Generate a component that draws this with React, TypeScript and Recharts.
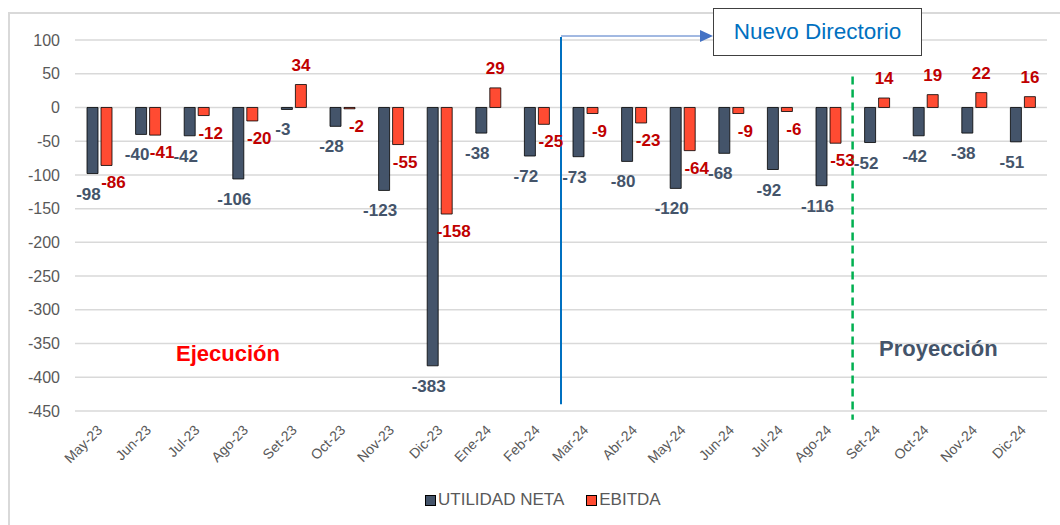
import { BarChart, Bar, XAxis, YAxis, CartesianGrid, ReferenceLine, LabelList } from 'recharts';

const months = [
  'May-23', 'Jun-23', 'Jul-23', 'Ago-23', 'Set-23', 'Oct-23', 'Nov-23', 'Dic-23', 'Ene-24', 'Feb-24',
  'Mar-24', 'Abr-24', 'May-24', 'Jun-24', 'Jul-24', 'Ago-24', 'Set-24', 'Oct-24', 'Nov-24', 'Dic-24',
];
const utilidadNeta = [-98, -40, -42, -106, -3, -28, -123, -383, -38, -72, -73, -80, -120, -68, -92, -116, -52, -42, -38, -51];
const ebitda = [-86, -41, -12, -20, 34, -2, -55, -158, 29, -25, -9, -23, -64, -9, -6, -53, 14, 19, 22, 16];
const yTicks = [100, 50, 0, -50, -100, -150, -200, -250, -300, -350, -400, -450];

const FONT = "'Liberation Sans', Arial, sans-serif";
const DARK = '#44546A';
const RED = '#FF4B32';
const RED_TEXT = '#C00000';
const GRID = '#D9D9D9';

const data = months.map((month, i) => ({ month, utilidad: utilidadNeta[i], ebitda: ebitda[i] }));

function makeLabel(color: string, shift: number, drop: number) {
  return (props: any) => {
    const { x, y, width, height, value } = props;
    const top = Math.min(y, y + height);
    const bottom = Math.max(y, y + height);
    const cx = x + width / 2;
    const neg = value < 0;
    return (
      <text
        x={neg ? cx + shift : cx}
        y={neg ? bottom + drop : top - 14}
        textAnchor="middle"
        fill={color}
        fontSize={17}
        fontWeight={700}
        fontFamily={FONT}
      >
        {value}
      </text>
    );
  };
}

const XTick = (props: any) => {
  const { x, y, payload } = props;
  const tx = x + 4;
  const ty = y + 12;
  return (
    <text
      x={tx}
      y={ty}
      transform={`rotate(-45, ${tx}, ${ty})`}
      textAnchor="end"
      fill="#595959"
      fontSize={14}
      fontFamily={FONT}
    >
      {payload.value}
    </text>
  );
};

export default function App() {
  return (
    <div
      style={{
        position: 'absolute',
        left: 0,
        top: 0,
        width: 1060,
        height: 525,
        overflow: 'hidden',
        background: '#FFFFFF',
        fontFamily: FONT,
      }}
    >
      <div
        style={{
          position: 'absolute',
          left: 8,
          top: 12,
          width: 1100,
          height: 600,
          border: `2px solid ${GRID}`,
        }}
      />
      <div style={{ position: 'absolute', left: 0, top: 0 }}>
        <BarChart
          width={1060}
          height={525}
          data={data}
          margin={{ top: 40, right: 13, bottom: 0, left: 0 }}
          barSize={11}
          barGap={3}
        >
          <CartesianGrid vertical={false} stroke={GRID} strokeWidth={1.5} />
          <XAxis
            dataKey="month"
            height={114}
            axisLine={false}
            tickLine={false}
            interval={0}
            tick={<XTick />}
          />
          <YAxis
            domain={[-450, 100]}
            ticks={yTicks}
            width={75}
            axisLine={false}
            tickLine={false}
            tickSize={6}
            tickMargin={9}
            interval={0}
            tick={{ fill: '#595959', fontSize: 16, fontFamily: FONT }}
          />
          <Bar dataKey="utilidad" name="UTILIDAD NETA" fill={DARK} stroke="#000" strokeWidth={0.8} isAnimationActive={false}>
            <LabelList dataKey="utilidad" content={makeLabel(DARK, -4, 26)} />
          </Bar>
          <Bar dataKey="ebitda" name="EBITDA" fill={RED} stroke="#000" strokeWidth={0.8} isAnimationActive={false}>
            <LabelList dataKey="ebitda" content={makeLabel(RED_TEXT, 7, 23)} />
          </Bar>
          <ReferenceLine
            segment={[{ x: 'Mar-24', y: 104.5 }, { x: 'Mar-24', y: -440 }]}
            position="start"
            ifOverflow="visible"
            stroke="#0070C0"
            strokeWidth={2}
          />
          <ReferenceLine
            segment={[{ x: 'Set-24', y: 46 }, { x: 'Set-24', y: -463 }]}
            position="start"
            ifOverflow="visible"
            stroke="#00B050"
            strokeWidth={2.5}
            strokeDasharray="8 5"
          />
        </BarChart>
      </div>

      <svg style={{ position: 'absolute', left: 0, top: 0 }} width={1060} height={525}>
        <line x1={561} y1={36} x2={702} y2={36} stroke="#4472C4" strokeWidth={1} />
        <polygon points="700,30 713,36 700,42" fill="#4472C4" />
      </svg>

      <div
        style={{
          position: 'absolute',
          left: 713,
          top: 8,
          width: 209,
          height: 48,
          border: '1.5px solid #404040',
          background: '#FFFFFF',
          display: 'flex',
          alignItems: 'center',
          justifyContent: 'center',
          color: '#0070C0',
          fontSize: 22.5,
          boxSizing: 'border-box',
        }}
      >
        Nuevo Directorio
      </div>

      <div
        style={{
          position: 'absolute',
          left: 176,
          top: 341,
          color: '#FF0000',
          fontSize: 22,
          fontWeight: 700,
        }}
      >
        Ejecución
      </div>
      <div
        style={{
          position: 'absolute',
          left: 879,
          top: 336,
          color: DARK,
          fontSize: 22,
          fontWeight: 700,
        }}
      >
        Proyección
      </div>

      <div
        style={{
          position: 'absolute',
          left: 425,
          top: 490,
          display: 'flex',
          gap: 22,
          fontSize: 17,
          color: '#595959',
        }}
      >
        {[
          { name: 'UTILIDAD NETA', color: DARK },
          { name: 'EBITDA', color: RED },
        ].map((item) => (
          <div key={item.name} style={{ display: 'flex', alignItems: 'center', gap: 2 }}>
            <span
              style={{
                display: 'inline-block',
                width: 9,
                height: 9,
                background: item.color,
                border: '1px solid #000',
              }}
            />
            <span>{item.name}</span>
          </div>
        ))}
      </div>
    </div>
  );
}
